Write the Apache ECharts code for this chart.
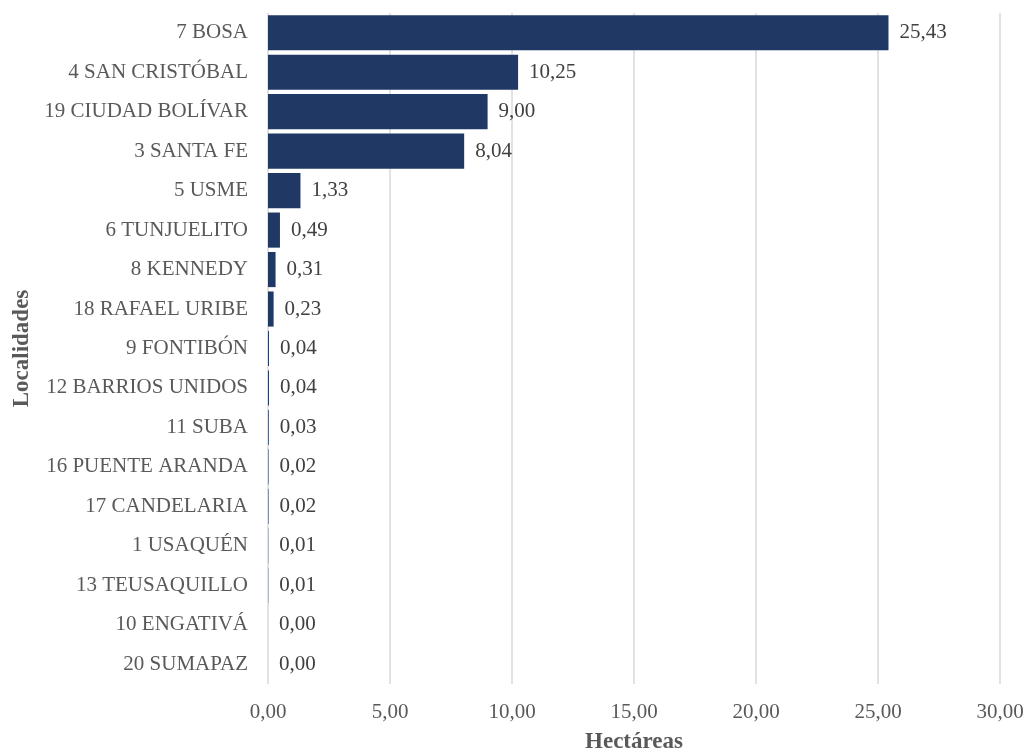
<!DOCTYPE html>
<html><head><meta charset="utf-8">
<script src="https://cdn.jsdelivr.net/npm/echarts@6/dist/echarts.min.js"></script>
<style>html,body{margin:0;padding:0;background:#fff}#c{width:1028px;height:752px}</style>
</head><body><div id="c"></div>
<script>
const categories = ["7 BOSA","4 SAN CRISTÓBAL","19 CIUDAD BOLÍVAR","3 SANTA FE","5 USME","6 TUNJUELITO","8 KENNEDY","18 RAFAEL URIBE","9 FONTIBÓN","12 BARRIOS UNIDOS","11 SUBA","16 PUENTE ARANDA","17 CANDELARIA","1 USAQUÉN","13 TEUSAQUILLO","10 ENGATIVÁ","20 SUMAPAZ"];
const values = [25.43,10.25,9.00,8.04,1.33,0.49,0.31,0.23,0.04,0.04,0.03,0.02,0.02,0.01,0.01,0.00,0.00];
const xTicks = [0,5,10,15,20,25,30];
const fmt = v => Number(v).toFixed(2).replace('.', ',');
const font = '"Liberation Serif","Times New Roman",serif';
const chart = echarts.init(document.getElementById('c'));
chart.setOption({
  animation:false,
  textStyle:{fontFamily:font},
  grid:{left:268,right:28,top:13,bottom:68,containLabel:false,outerBoundsMode:'none'},
  xAxis:{type:'value',min:xTicks[0],max:xTicks[xTicks.length-1],interval:5,
    name:'Hectáreas',nameLocation:'middle',nameGap:58,
    nameTextStyle:{fontFamily:font,fontSize:23,fontWeight:'bold',color:'#595959',verticalAlign:'middle'},
    axisLine:{show:false},axisTick:{show:false},
    axisLabel:{fontFamily:font,fontSize:21,color:'#595959',margin:18,formatter:fmt},
    splitLine:{show:true,lineStyle:{color:'#d9d9d9',width:1.5}}},
  yAxis:{type:'category',data:categories,inverse:true,
    name:'Localidades',nameLocation:'middle',nameGap:244,nameRotate:90,
    nameTextStyle:{fontFamily:font,fontSize:23,fontWeight:'bold',color:'#595959',verticalAlign:'middle'},
    axisLine:{show:false},axisTick:{show:false},
    axisLabel:{fontFamily:font,fontSize:21,color:'#595959',margin:20}},
  series:[{type:'bar',data:values,barCategoryGap:'11%',
    itemStyle:{color:'#203864'},
    label:{show:true,position:'right',distance:11,fontFamily:font,fontSize:21,color:'#404040',
      formatter:p=>fmt(p.value)}}]
});
</script></body></html>
